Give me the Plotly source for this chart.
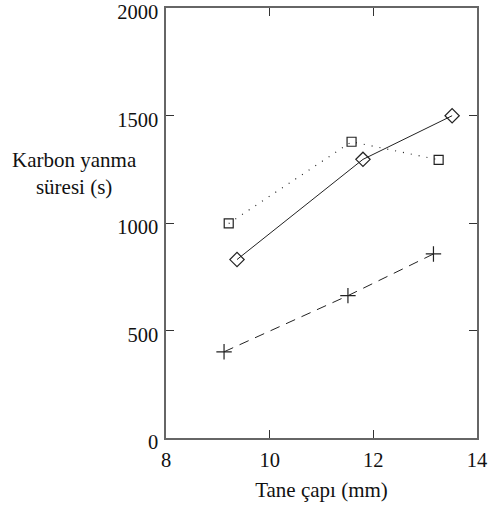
import plotly.graph_objects as go

# Grain diameter (mm) and carbon burn-out time (s) for three series
diamond_x = [9.37, 11.80, 13.52]
diamond_y = [830, 1296, 1499]

square_x = [9.21, 11.58, 13.26]
square_y = [998, 1378, 1294]

cross_x = [9.12, 11.51, 13.16]
cross_y = [401, 662, 856]

x_ticks = [8, 10, 12, 14]
y_ticks = [0, 500, 1000, 1500, 2000]

FONT = "Liberation Serif, Times New Roman, serif"
INK = "#111"

fig = go.Figure()

fig.add_trace(go.Scatter(
    x=square_x, y=square_y, mode="lines+markers",
    line=dict(color="#222", width=1.2, dash="1px,7px"),
    marker=dict(symbol="square-open", size=9, color="#222", line=dict(width=1.2)),
))
fig.add_trace(go.Scatter(
    x=diamond_x, y=diamond_y, mode="lines+markers",
    line=dict(color="#222", width=1),
    marker=dict(symbol="diamond-open", size=11, color="#222", line=dict(width=1.2)),
))
fig.add_trace(go.Scatter(
    x=cross_x, y=cross_y, mode="lines+markers",
    line=dict(color="#222", width=1, dash="10px,7px"),
    marker=dict(symbol="cross-thin-open", size=11, color="#222", line=dict(width=1.2)),
))

axis_common = dict(
    showline=True, linecolor="#666", linewidth=1.5, mirror="allticks",
    ticks="inside", ticklen=8, tickwidth=1, tickcolor="#333",
    showgrid=False, zeroline=False, automargin=False,
    ticklabeloverflow="allow",
    tickfont=dict(family=FONT, size=20.5, color=INK),
)

fig.update_xaxes(
    range=[8, 14], tickvals=x_ticks, ticktext=[str(v) for v in x_ticks],
    ticklabelstandoff=3,
    title=dict(text="Tane çapı (mm)", font=dict(family=FONT, size=21, color=INK), standoff=12),
    **axis_common,
)
fig.update_yaxes(
    range=[0, 2000], tickvals=y_ticks, ticktext=[str(v) for v in y_ticks],
    ticklabelstandoff=2, ticklabelshift=4,
    **axis_common,
)

fig.add_annotation(
    text="Karbon yanma<br>süresi (s)", xref="paper", yref="paper",
    x=-0.293, y=0.616, xanchor="center", yanchor="middle", showarrow=False,
    align="center", font=dict(family=FONT, size=21, color=INK),
)

fig.update_layout(
    width=488, height=509,
    margin=dict(l=166, r=11, t=8, b=71),
    paper_bgcolor="white", plot_bgcolor="white",
    showlegend=False,
)

fig.write_html("out.html")
